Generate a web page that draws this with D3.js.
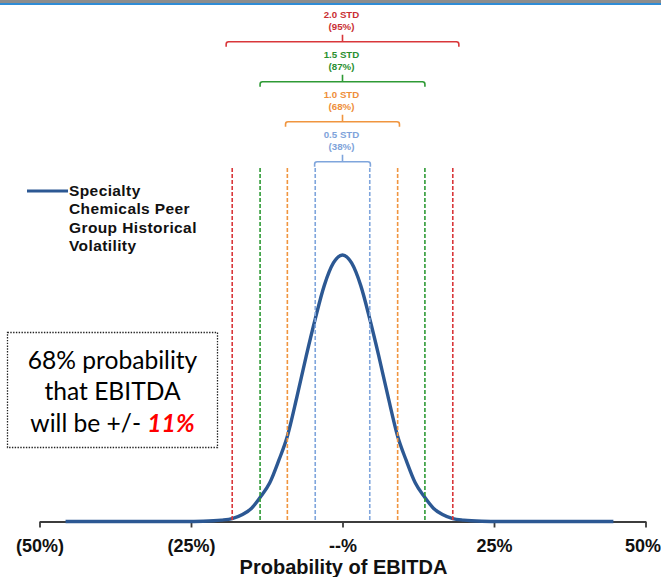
<!DOCTYPE html>
<html>
<head>
<meta charset="utf-8">
<script src="https://cdn.jsdelivr.net/npm/d3@7/dist/d3.min.js"></script>
<style>
  html, body { margin: 0; padding: 0; background: #fff; }
  svg { display: block; }
</style>
</head>
<body>
<svg id="chart" width="661" height="577"></svg>
<script>
// Distribution of EBITDA outcomes (% change), height relative to the peak
const curveX = [-45.7, -30, -26, -23, -20, -18.2, -16.5, -15, -13.6, -12, -10.5, -9.1, -7.5, -6, -4.5, -3, -1.5, 0,
                 1.5, 3, 4.5, 6, 7.5, 9.1, 10.5, 12, 13.6, 15, 16.5, 18.2, 20, 23, 26, 30, 44.7];
const curveY = [0, 0, 0, 0.001, 0.005, 0.011, 0.026, 0.05, 0.09, 0.145, 0.23, 0.32, 0.47, 0.62, 0.76, 0.886, 0.97, 1.0,
                 0.97, 0.886, 0.76, 0.62, 0.47, 0.32, 0.23, 0.145, 0.09, 0.05, 0.026, 0.011, 0.005, 0.001, 0, 0, 0];

// Standard-deviation bands
const stdLabels   = ["0.5 STD", "1.0 STD", "1.5 STD", "2.0 STD"];
const stdProbs    = ["(38%)", "(68%)", "(87%)", "(95%)"];
const stdOffsets  = [4.5, 9.1, 13.6, 18.2];   // dashed guide positions, % from mean
const bracketHalf = [4.6, 9.4, 13.6, 19.2];   // bracket half-widths, % from mean
const stdColors   = ["#7fa5dc", "#f0953f", "#2e9a35", "#d9373a"];
const stdTextCols = ["#7ea3da", "#ee8e3a", "#2a8f30", "#c92f33"];

// Axis
const tickValues = [-50, -25, 0, 25, 50];
const tickLabels = ["(50%)", "(25%)", "--%", "25%", "50%"];
const axisTitle  = "Probability of EBITDA";

const legendLines = ["Specialty", "Chemicals Peer", "Group Historical", "Volatility"];
const noteLines   = ["68% probability", "that EBITDA", "will be +/- "];
const noteValue   = "11%";

const svg = d3.select("#chart");
const W = 661, H = 577;

// window frame strip along the top
svg.append("rect").attr("x", 0).attr("y", 0).attr("width", W).attr("height", 3).attr("fill", "#8d8d8d");
svg.append("rect").attr("x", 0).attr("y", 3).attr("width", W).attr("height", 2).attr("fill", "#2f8cd6");

const x = d3.scaleLinear().domain([-50, 50]).range([39.5, 645.5]);
const y = d3.scaleLinear().domain([0, 1]).range([521.5, 255]);

// x axis
const axis = d3.axisBottom(x)
  .tickValues(tickValues)
  .tickFormat((d, i) => tickLabels[i])
  .tickSizeInner(6)
  .tickSizeOuter(0);

const gAxis = svg.append("g")
  .attr("transform", `translate(0,${y(0)})`)
  .call(axis);
gAxis.select(".domain").attr("stroke", "#3c3c3c").attr("stroke-width", 1.8);
gAxis.selectAll(".tick line").attr("stroke", "#3c3c3c").attr("stroke-width", 1.8);
gAxis.selectAll(".tick text")
  .attr("y", 30.5).attr("dy", 0)
  .attr("fill", "#111")
  .style("font-family", "'Liberation Sans', Arial, sans-serif")
  .style("font-weight", "bold")
  .style("font-size", "18px");
// keep the last label inside the frame
gAxis.selectAll(".tick text")
  .filter((d, i) => i === tickValues.length - 1)
  .attr("text-anchor", "end")
  .attr("x", W - x(50) - 0.5);

svg.append("text")
  .attr("x", x(0) + 1).attr("y", 574)
  .attr("text-anchor", "middle")
  .attr("fill", "#111")
  .style("font-family", "'Liberation Sans', Arial, sans-serif")
  .style("font-weight", "bold")
  .style("font-size", "20px")
  .text(axisTitle);

// distribution curve
const pts = curveX.map((v, i) => [v, curveY[i]]);
const line = d3.line()
  .x(d => x(d[0]))
  .y(d => y(d[1]))
  .curve(d3.curveMonotoneX);

svg.append("path")
  .datum(pts)
  .attr("fill", "none")
  .attr("stroke", "#2c5893")
  .attr("stroke-width", 3.4)
  .attr("stroke-linejoin", "round")
  .attr("d", line);

// dashed guides at +/- each band
const guideTop = 168;
stdOffsets.forEach((o, i) => {
  [-o, o].forEach(v => {
    svg.append("line")
      .attr("x1", x(v)).attr("x2", x(v))
      .attr("y1", guideTop).attr("y2", y(0))
      .attr("stroke", stdColors[i])
      .attr("stroke-width", 1.6)
      .attr("stroke-dasharray", "4,2");
  });
});

// brackets with labels above the chart
const bracketY = [161.7, 121.7, 81.7, 41.7];
stdLabels.forEach((lab, i) => {
  const by = bracketY[i];
  const x0 = x(-bracketHalf[i]), x1 = x(bracketHalf[i]), xc = x(0);
  const r = 2.5, drop = 5;
  const p = d3.path();
  p.moveTo(x0, by + drop);
  p.lineTo(x0, by + r);
  p.quadraticCurveTo(x0, by, x0 + r, by);
  p.lineTo(x1 - r, by);
  p.quadraticCurveTo(x1, by, x1, by + r);
  p.lineTo(x1, by + drop);
  p.moveTo(xc, by);
  p.lineTo(xc, by - 7);
  svg.append("path")
    .attr("d", p.toString())
    .attr("fill", "none")
    .attr("stroke", stdColors[i])
    .attr("stroke-width", 1.6);

  const t = svg.append("text")
    .attr("text-anchor", "middle")
    .attr("fill", stdTextCols[i])
    .style("font-family", "'Liberation Sans', Arial, sans-serif")
    .style("font-weight", "bold")
    .style("font-size", "9.7px");
  t.append("tspan").attr("x", xc - 1).attr("y", by - 24.2).text(lab);
  t.append("tspan").attr("x", xc - 1).attr("y", by - 11.7).text(stdProbs[i]);
});

// legend
svg.append("line")
  .attr("x1", 27).attr("x2", 68).attr("y1", 191).attr("y2", 191)
  .attr("stroke", "#2c5893").attr("stroke-width", 3);
const lg = svg.append("text")
  .attr("fill", "#111")
  .style("font-family", "'Liberation Sans', Arial, sans-serif")
  .style("font-weight", "bold")
  .style("font-size", "15.5px")
  .style("letter-spacing", "0.4px");
legendLines.forEach((s, i) => {
  lg.append("tspan").attr("x", 69).attr("y", 196 + i * 18.3).text(s);
});

// note box
svg.append("rect")
  .attr("x", 7.5).attr("y", 332.5).attr("width", 210).attr("height", 115)
  .attr("fill", "#fff")
  .attr("stroke", "#222")
  .attr("stroke-width", 1.3)
  .attr("stroke-dasharray", "1.4,1.4");

const note = svg.append("text")
  .attr("text-anchor", "middle")
  .attr("fill", "#000")
  .style("font-family", "Lato, 'Open Sans', sans-serif")
  .style("font-size", "24.6px");
const noteBase = [368.5, 400, 431.5];
noteLines.forEach((s, i) => {
  note.append("tspan").attr("x", 112.5).attr("y", noteBase[i]).text(s);
  if (i === noteLines.length - 1) {
    note.append("tspan")
      .attr("fill", "#ff0000")
      .style("font-weight", "bold")
      .style("font-style", "italic")
      .text(noteValue);
  }
});
</script>
</body>
</html>
